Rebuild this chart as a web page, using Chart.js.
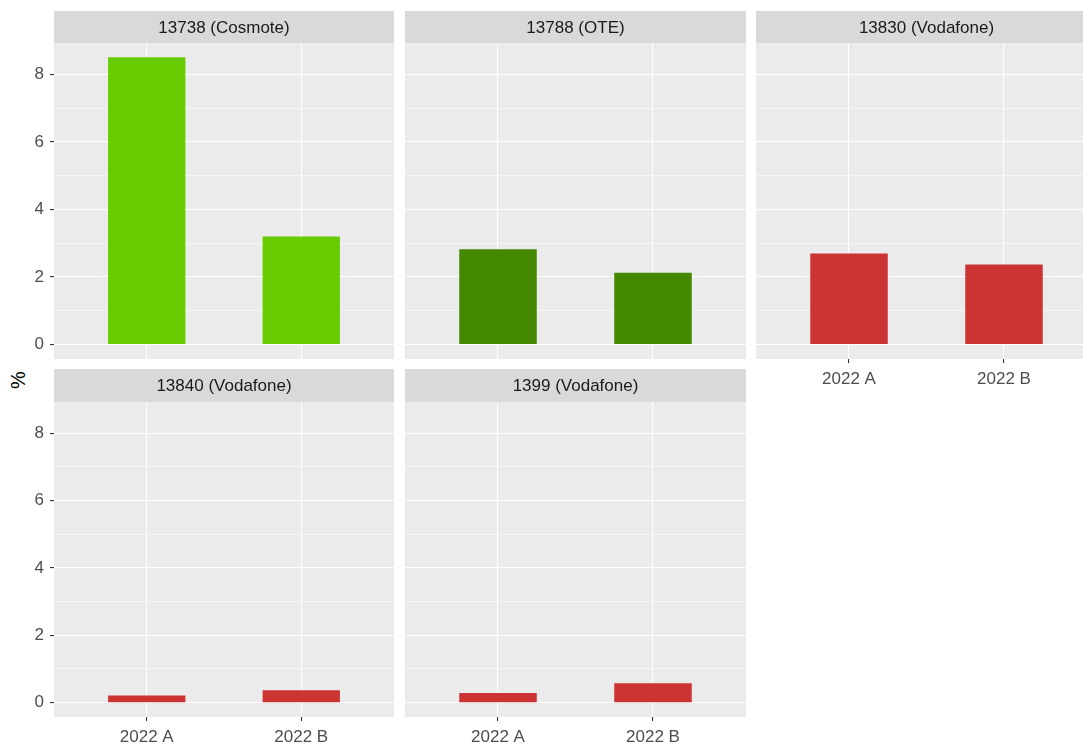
<!DOCTYPE html>
<html><head><meta charset="utf-8">
<script src="https://cdn.jsdelivr.net/npm/chart.js@4"></script>
<style>
html,body{margin:0;padding:0;background:#fff;width:1083px;height:745px;overflow:hidden;position:relative;}
canvas{position:absolute;}
#ylab{position:absolute;left:18px;top:380px;transform:translate(-50%,-50%) rotate(-90deg);font:20px 'Liberation Sans',Arial,sans-serif;color:#000;white-space:nowrap;}
</style></head><body>
<div id="ylab">%</div>
<script>
// ---- data ----
const categories = ['2022 A', '2022 B'];
const panelTitles = ['13738 (Cosmote)', '13788 (OTE)', '13830 (Vodafone)', '13840 (Vodafone)', '1399 (Vodafone)'];
const values13738 = [8.50, 3.20];
const values13788 = [2.82, 2.13];
const values13830 = [2.70, 2.37];
const values13840 = [0.21, 0.37];
const values1399  = [0.29, 0.58];
const yTickLabels = [0, 2, 4, 6, 8];
const yGridValues = [0, 1, 2, 3, 4, 5, 6, 7, 8];
const panelColors = ['#66CC00', '#448800', '#CC3333', '#CC3333', '#CC3333'];
const panelValues = [values13738, values13788, values13830, values13840, values1399];

// ---- layout ----
const FONT = "'Liberation Sans', Arial, sans-serif";
const FSIZE = 17;
const cols = [{left: 54, w: 340}, {left: 405, w: 341}, {left: 756, w: 341}];
const rows = [{stripTop: 11, stripH: 32, plotH: 316}, {stripTop: 369, stripH: 33, plotH: 315}];
const panels = [
  {r: 0, c: 0, xlab: false}, {r: 0, c: 1, xlab: false}, {r: 0, c: 2, xlab: true},
  {r: 1, c: 0, xlab: true}, {r: 1, c: 1, xlab: true}
];
const Y_MIN = -0.425, Y_MAX = 8.925;

const facetPlugin = {
  id: 'facet',
  beforeDraw(chart, args, opts) {
    const {ctx, chartArea: a} = chart;
    ctx.save();
    ctx.fillStyle = '#EBEBEB';
    ctx.fillRect(a.left, a.top, a.right - a.left, a.bottom - a.top);
    ctx.fillStyle = '#D9D9D9';
    ctx.fillRect(a.left, a.top - opts.stripH, a.right - a.left, opts.stripH);
    ctx.fillStyle = '#1A1A1A';
    ctx.font = FSIZE + 'px ' + FONT;
    ctx.textAlign = 'center';
    ctx.textBaseline = 'middle';
    ctx.fillText(opts.title, (a.left + a.right) / 2, a.top - opts.stripH / 2 + 1);
    ctx.restore();
  }
};

panels.forEach((p, i) => {
  const col = cols[p.c], row = rows[p.r];
  const ylab = p.c === 0;
  const yW = ylab ? 54 : 0;
  const xH = p.xlab ? 32 : 0;
  const cv = document.createElement('canvas');
  cv.width = yW + col.w;
  cv.height = row.stripH + row.plotH + xH;
  cv.style.left = (col.left - yW) + 'px';
  cv.style.top = row.stripTop + 'px';
  document.body.appendChild(cv);

  new Chart(cv, {
    type: 'bar',
    data: {
      datasets: [{
        data: panelValues[i].map((v, k) => ({x: k + 1, y: v})),
        backgroundColor: panelColors[i],
        borderWidth: 0,
        categoryPercentage: 0.5,
        barPercentage: 1.0
      }]
    },
    plugins: [facetPlugin],
    options: {
      responsive: false,
      animation: false,
      devicePixelRatio: 1,
      layout: {autoPadding: false, padding: {top: row.stripH, left: 0, right: 0, bottom: 0}},
      plugins: {
        legend: {display: false},
        tooltip: {enabled: false},
        title: {display: false},
        facet: {title: panelTitles[i], stripH: row.stripH}
      },
      scales: {
        x: {
          type: 'linear',
          min: 0.4, max: 2.6,
          bounds: 'data',
          offset: false,
          afterBuildTicks: s => { s.ticks = categories.map((_, k) => ({value: k + 1})); },
          afterFit: s => { s.height = xH; s.paddingLeft = 0; s.paddingRight = 0; },
          border: {display: false},
          grid: {offset: false, color: '#FFFFFF', lineWidth: 1.1, drawTicks: p.xlab, tickLength: 4, tickColor: '#333333', tickWidth: 1.1},
          ticks: {
            display: p.xlab,
            autoSkip: false, maxRotation: 0,
            padding: 6,
            color: '#4D4D4D',
            font: {family: FONT, size: FSIZE},
            callback: v => categories[Math.round(v) - 1]
          }
        },
        y: {
          min: Y_MIN, max: Y_MAX,
          bounds: 'data',
          afterBuildTicks: s => { s.ticks = yGridValues.map(v => ({value: v})); },
          afterFit: s => { s.width = yW; s.paddingTop = 0; s.paddingBottom = 0; },
          border: {display: false},
          grid: {
            color: '#FFFFFF',
            lineWidth: c => (c.tick && c.tick.value % 2 === 0) ? 1.1 : 0.55,
            drawTicks: ylab, tickLength: 4,
            tickColor: c => (c.tick && yTickLabels.includes(c.tick.value)) ? '#333333' : 'rgba(0,0,0,0)',
            tickWidth: 1.1
          },
          ticks: {
            display: ylab,
            padding: 6,
            color: '#4D4D4D',
            font: {family: FONT, size: FSIZE},
            callback: v => yTickLabels.includes(v) ? String(v) : ''
          }
        }
      }
    }
  });
});
</script>
</body></html>
